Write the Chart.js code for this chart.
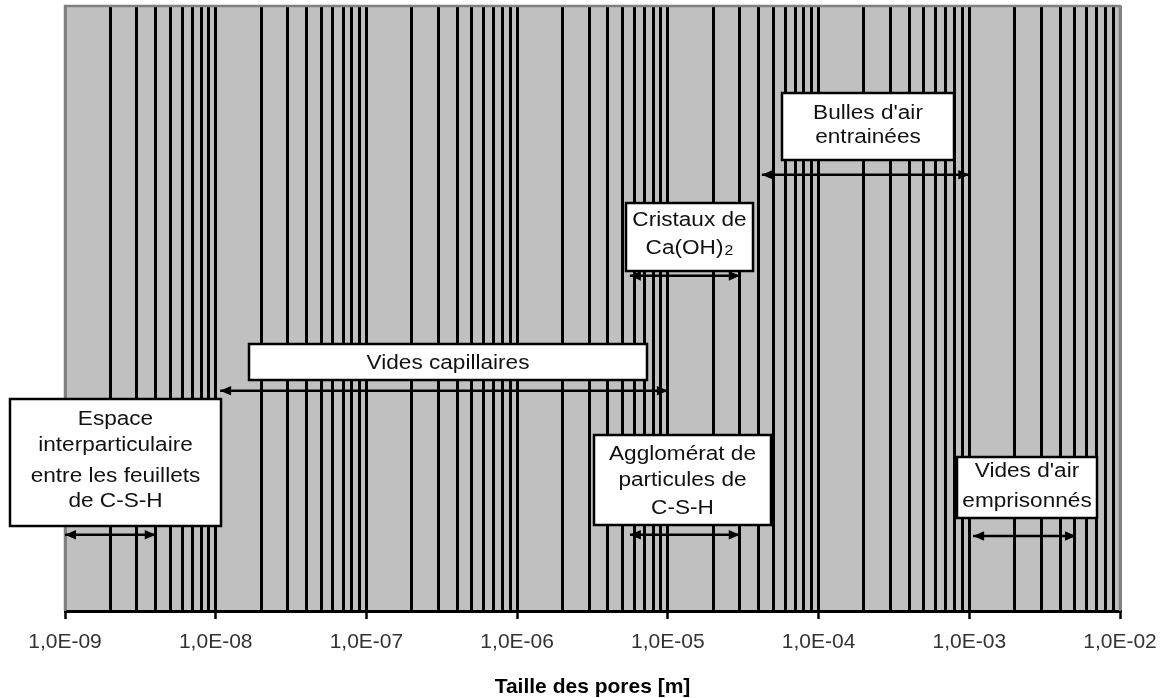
<!DOCTYPE html>
<html><head><meta charset="utf-8">
<script src="https://cdn.jsdelivr.net/npm/chart.js@4"></script>
<style>html,body{margin:0;padding:0;background:#fff;}#wrap{width:1174px;height:698px;position:relative;}</style>
</head><body><div id="wrap"><canvas id="c" width="1174" height="698"></canvas></div>
<script>
// ---- data ----
const decades = [-9, -8, -7, -6, -5, -4, -3, -2];
const tickLabels = ['1,0E-09', '1,0E-08', '1,0E-07', '1,0E-06', '1,0E-05', '1,0E-04', '1,0E-03', '1,0E-02'];
const axisTitle = 'Taille des pores [m]';
const rangeNames = ['Espace interparticulaire', 'Vides capillaires', 'Cristaux de Ca(OH)2', "Bulles d'air entrainées", 'Agglomérat de particules de C-S-H', "Vides d'air emprisonnés"];
const rangeMin = [1e-9, 1.07e-8, 5.6e-6, 4.2e-5, 5.6e-6, 1.06e-3];
const rangeMax = [4e-9, 1e-5, 3e-5, 1e-3, 3e-5, 5.1e-3];
const boxLines = [
  ['Espace', 'interparticulaire', 'entre les feuillets', 'de C-S-H'],
  ['Vides capillaires'],
  ['Cristaux de', 'Ca(OH)_2'],
  ["Bulles d'air", 'entrainées'],
  ['Agglomérat de', 'particules de', 'C-S-H'],
  ["Vides d'air", 'emprisonnés']
];

// ---- layout (positions / styles) ----
const arrowLevel = [0.126, 0.364, 0.554, 0.721, 0.126, 0.124]; // y-axis units (0..1)
const boxRect = [ // x1, y1, x2, y2 in px
  [10, 399, 221, 526],
  [249, 344, 647, 380],
  [626, 203, 753, 271],
  [782, 93, 954, 160],
  [594, 435, 771, 525],
  [957, 457, 1097, 518]
];
const boxBaselines = [
  [425, 451, 482, 507],
  [369],
  [226, 254],
  [119, 143],
  [460, 486, 514],
  [477, 507]
];
const FONT = "'Liberation Sans', Arial, sans-serif";

// tick values: every 1..9 x 10^n
const tickValues = [];
const tickLabelIdx = [];
decades.forEach((d, di) => {
  const last = di === decades.length - 1;
  for (let m = 1; m <= (last ? 1 : 9); m++) {
    tickValues.push(m * Math.pow(10, d));
    tickLabelIdx.push(m === 1 ? di : -1);
  }
});
const lastTick = tickValues.length - 1;

const bgPlugin = {
  id: 'bg',
  beforeDraw(chart) {
    const {ctx, chartArea: a} = chart;
    ctx.save();
    ctx.fillStyle = '#C0C0C0';
    ctx.fillRect(a.left, a.top, a.right - a.left, a.bottom - a.top);
    ctx.restore();
  },
  beforeDatasetsDraw(chart) {
    const {ctx, chartArea: a} = chart;
    ctx.save();
    // grey frame top/left/right
    ctx.strokeStyle = '#808080';
    ctx.lineWidth = 2.5;
    ctx.beginPath();
    ctx.moveTo(a.left, a.bottom);
    ctx.lineTo(a.left, a.top);
    ctx.lineTo(a.right, a.top);
    ctx.lineTo(a.right, a.bottom);
    ctx.stroke();
    // boxes
    boxRect.forEach((r, i) => {
      ctx.fillStyle = '#fff';
      ctx.fillRect(r[0], r[1], r[2] - r[0], r[3] - r[1]);
      ctx.strokeStyle = '#000';
      ctx.lineWidth = 2.5;
      ctx.strokeRect(r[0], r[1], r[2] - r[0], r[3] - r[1]);
      const cx = (r[0] + r[2]) / 2;
      const sx = 1.13;
      boxLines[i].forEach((line, j) => {
        const by = boxBaselines[i][j];
        ctx.save();
        ctx.translate(cx, by);
        ctx.scale(sx, 1);
        ctx.fillStyle = '#111';
        ctx.textBaseline = 'alphabetic';
        if (line.includes('_')) {
          const [main, sub] = line.split('_');
          ctx.font = '20px ' + FONT;
          const w1 = ctx.measureText(main).width;
          ctx.font = '14px ' + FONT;
          const w2 = ctx.measureText(sub).width;
          const total = w1 + 1 + w2;
          ctx.textAlign = 'left';
          ctx.font = '20px ' + FONT;
          ctx.fillText(main, -total / 2, 0);
          ctx.font = '14px ' + FONT;
          ctx.fillText(sub, -total / 2 + w1 + 1, 1);
        } else {
          ctx.font = '20px ' + FONT;
          ctx.textAlign = 'center';
          ctx.fillText(line, 0, 0);
        }
        ctx.restore();
      });
    });
    ctx.restore();
  },
  afterDatasetsDraw(chart) {
    const {ctx} = chart;
    ctx.save();
    ctx.fillStyle = '#000';
    chart.data.datasets.forEach((ds, i) => {
      const pts = chart.getDatasetMeta(i).data;
      if (pts.length < 2) return;
      const p0 = pts[0], p1 = pts[1];
      const L = 11, H = 4.8;
      ctx.beginPath();
      ctx.moveTo(p0.x, p0.y);
      ctx.lineTo(p0.x + L, p0.y - H);
      ctx.lineTo(p0.x + L, p0.y + H);
      ctx.closePath();
      ctx.fill();
      ctx.beginPath();
      ctx.moveTo(p1.x, p1.y);
      ctx.lineTo(p1.x - L, p1.y - H);
      ctx.lineTo(p1.x - L, p1.y + H);
      ctx.closePath();
      ctx.fill();
    });
    ctx.restore();
  }
};

new Chart(document.getElementById('c'), {
  type: 'scatter',
  data: {
    datasets: rangeNames.map((n, i) => ({
      label: n,
      data: [{x: rangeMin[i], y: arrowLevel[i]}, {x: rangeMax[i], y: arrowLevel[i]}],
      showLine: true,
      borderColor: '#000',
      borderWidth: 2.5,
      pointRadius: 0,
      pointHoverRadius: 0,
      fill: false
    }))
  },
  options: {
    responsive: false,
    animation: false,
    events: [],
    layout: {padding: {left: 65, right: 54, top: 6, bottom: 0}},
    plugins: {legend: {display: false}, tooltip: {enabled: false}},
    scales: {
      x: {
        type: 'logarithmic',
        min: 1e-9,
        max: 1e-2,
        afterBuildTicks: s => { s.ticks = tickValues.map(v => ({value: v})); },
        afterFit: s => { s.height = 87; },
        grid: {
          color: c => (c.index === 0 || c.index === lastTick) ? '#808080' : '#000',
          lineWidth: 3,
          drawTicks: true,
          tickLength: 8,
          tickWidth: 2.5,
          tickColor: c => (tickLabelIdx[c.index] >= 0) ? '#000' : 'rgba(0,0,0,0)'
        },
        border: {color: '#000', width: 3},
        ticks: {
          autoSkip: false,
          maxRotation: 0,
          minRotation: 0,
          padding: 11,
          color: '#333',
          font: {family: FONT, size: 21},
          callback: (v, i) => tickLabelIdx[i] >= 0 ? tickLabels[tickLabelIdx[i]] : ''
        },
        title: {
          display: true,
          text: axisTitle,
          color: '#000',
          font: {family: FONT, size: 21, weight: 'bold', lineHeight: 1},
          padding: {top: 0, bottom: 0}
        }
      },
      y: {display: false, min: 0, max: 1}
    }
  },
  plugins: [bgPlugin]
});
</script>
</body></html>
